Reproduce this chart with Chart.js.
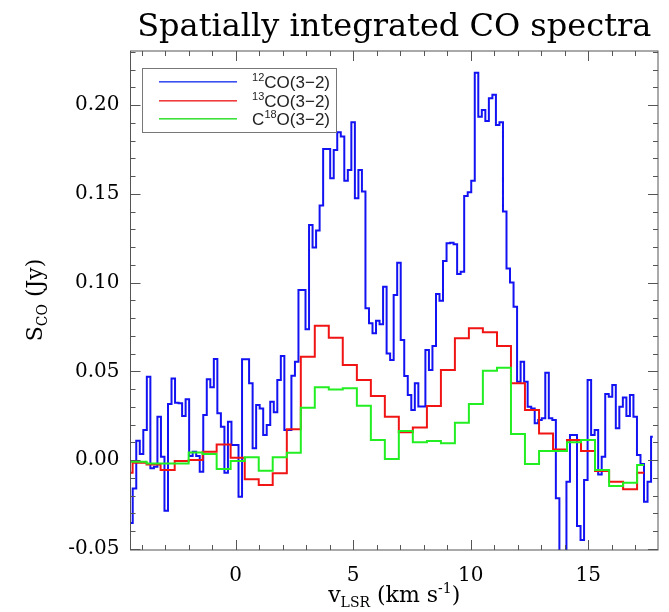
<!DOCTYPE html>
<html>
<head>
<meta charset="utf-8">
<title>Spatially integrated CO spectra</title>
<script src="https://cdn.jsdelivr.net/npm/chart.js"></script>
<style>
  html, body { margin: 0; padding: 0; background: #fff; }
  canvas { display: block; }
</style>
</head>
<body>
<canvas id="spectra" width="669" height="612"></canvas>
<script>
// 12CO(3-2): fine channels, velocity (km/s) and flux density (Jy)
const vel12co = [
  -4.45, -4.30, -4.15, -4.00, -3.85, -3.70, -3.55, -3.40, -3.25, -3.10,
  -2.95, -2.80, -2.65, -2.50, -2.35, -2.20, -2.05, -1.90, -1.75, -1.60,
  -1.45, -1.30, -1.15, -1.00, -0.85, -0.70, -0.55, -0.40, -0.25, -0.10,
  0.05, 0.20, 0.35, 0.50, 0.65, 0.80, 0.95, 1.10, 1.25, 1.40,
  1.55, 1.70, 1.85, 2.00, 2.15, 2.30, 2.45, 2.60, 2.75, 2.90,
  3.05, 3.20, 3.35, 3.50, 3.65, 3.80, 3.95, 4.10, 4.25, 4.40,
  4.55, 4.70, 4.85, 5.00, 5.15, 5.30, 5.45, 5.60, 5.75, 5.90,
  6.05, 6.20, 6.35, 6.50, 6.65, 6.80, 6.95, 7.10, 7.25, 7.40,
  7.55, 7.70, 7.85, 8.00, 8.15, 8.30, 8.45, 8.60, 8.75, 8.90,
  9.05, 9.20, 9.35, 9.50, 9.65, 9.80, 9.95, 10.10, 10.25, 10.40,
  10.55, 10.70, 10.85, 11.00, 11.15, 11.30, 11.45, 11.60, 11.75, 11.90,
  12.05, 12.20, 12.35, 12.50, 12.65, 12.80, 12.95, 13.10, 13.25, 13.40,
  13.55, 13.70, 13.85, 14.00, 14.15, 14.30, 14.45, 14.60, 14.75, 14.90,
  15.05, 15.20, 15.35, 15.50, 15.65, 15.80, 15.95, 16.10, 16.25, 16.40,
  16.55, 16.70, 16.85, 17.00, 17.15, 17.30, 17.45, 17.60, 17.75
];
const flux12co = [
  -0.0355, -0.0160, 0.0109, 0.0034, 0.0169, 0.0470, -0.0047, -0.0038, 0.0244, 0.0019,
  -0.0286, 0.0316, 0.0460, 0.0323, 0.0320, 0.0248, 0.0342, 0.0023, 0.0047, 0.0023,
  -0.0066, 0.0254, 0.0455, 0.0410, 0.0569, 0.0263, 0.0188, -0.0071, 0.0216, 0.0085,
  0.0085, -0.0207, 0.0568, 0.0568, 0.0432, 0.0066, 0.0310, 0.0290, 0.0141, 0.0197,
  0.0329, 0.0269, 0.0451, 0.0586, 0.0169, 0.0169, 0.0475, 0.0554, 0.0958, 0.0958,
  0.0737, 0.1325, 0.1197, 0.1293, 0.1434, 0.1753, 0.1753, 0.1588, 0.1747, 0.1847,
  0.1823, 0.1574, 0.1635, 0.1904, 0.1475, 0.1635, 0.1513, 0.0855, 0.0771, 0.0714,
  0.0785, 0.0765, 0.0977, 0.0601, 0.0564, 0.0930, 0.1112, 0.0676, 0.0474, 0.0366,
  0.0282, 0.0432, 0.0301, 0.0301, 0.0620, 0.0507, 0.0643, 0.0935, 0.0898, 0.1122,
  0.1221, 0.1225, 0.1216, 0.1048, 0.1061, 0.1488, 0.1509, 0.1574, 0.2183, 0.1935,
  0.1973, 0.1911, 0.2039, 0.2058, 0.1888, 0.1904, 0.1400, 0.1080, 0.1000, 0.0864,
  0.0441, 0.0554, 0.0441, 0.0300, 0.0291, 0.0207, 0.0225, 0.0235, 0.0492, 0.0235,
  0.0225, -0.0216, -0.0560, -0.0560, -0.0122, 0.0141, 0.0141, -0.0372, -0.0450, -0.0113,
  0.0451, 0.0141, 0.0169, -0.0081, 0.0019, 0.0372, 0.0357, 0.0423, 0.0179, 0.0300,
  0.0353, 0.0248, 0.0366, 0.0244, 0.0028, -0.0023, -0.0235, -0.0122, 0.0131
];

// 13CO(3-2) and C18O(3-2) share the coarser channels
const velIso = [
  -4.68, -4.08, -3.49, -2.89, -2.29, -1.70, -1.10, -0.51, 0.09, 0.69,
  1.28, 1.88, 2.48, 3.07, 3.67, 4.26, 4.86, 5.46, 6.05, 6.65,
  7.24, 7.84, 8.44, 9.03, 9.63, 10.22, 10.82, 11.42, 12.01, 12.61,
  13.21, 13.80, 14.40, 14.99, 15.59, 16.19, 16.78, 17.38
];
const flux13co = [
  -0.0071, -0.0015, -0.0025, -0.0056, -0.0006, 0.0000, 0.0047, 0.0088, 0.0013, -0.0109,
  -0.0141, -0.0075, 0.0173, 0.0582, 0.0757, 0.0689, 0.0535, 0.0451, 0.0361, 0.0244,
  0.0156, 0.0184, 0.0304, 0.0507, 0.0686, 0.0742, 0.0720, 0.0643, 0.0432, 0.0282,
  0.0150, 0.0060, 0.0113, 0.0051, -0.0062, -0.0122, -0.0165, -0.0071
];
const fluxC18o = [
  -0.0010, -0.0010, -0.0020, -0.0020, -0.0020, 0.0043, 0.0034, -0.0051, -0.0006, 0.0015,
  -0.0060, 0.0015, 0.0041, 0.0295, 0.0410, 0.0398, 0.0404, 0.0306, 0.0113, 0.0006,
  0.0163, 0.0100, 0.0107, 0.0094, 0.0210, 0.0316, 0.0503, 0.0520, 0.0147, -0.0023,
  0.0051, 0.0051, 0.0100, 0.0113, -0.0056, -0.0147, -0.0128, -0.0028
];

const xTicks = [0, 5, 10, 15];
const yTicks = [-0.05, 0.00, 0.05, 0.10, 0.15, 0.20];

const SERIF = '"DejaVu Serif", "Liberation Serif", serif';
const SANS = '"Liberation Sans", "DejaVu Sans", sans-serif';

function toPoints(xs, ys) {
  return xs.map((x, i) => ({ x: x, y: ys[i] }));
}

// draw a run of text pieces (sub/superscripts) starting at x, baseline y
function drawRuns(ctx, runs, x, y, align) {
  let w = 0;
  runs.forEach(r => { ctx.font = r.font; w += ctx.measureText(r.text).width; });
  let cx = x;
  if (align === 'center') cx = x - w / 2;
  if (align === 'right') cx = x - w;
  runs.forEach(r => {
    ctx.font = r.font;
    ctx.fillText(r.text, cx, y + (r.dy || 0));
    cx += ctx.measureText(r.text).width;
  });
}

const framePlugin = {
  id: 'frame',
  afterDraw(chart) {
    const ctx = chart.ctx;
    const a = chart.chartArea;
    const xs = chart.scales.x, ys = chart.scales.y;
    ctx.save();

    // box and inward ticks on all four sides
    ctx.strokeStyle = '#555';
    ctx.lineWidth = 1;
    ctx.strokeRect(a.left, a.top, a.right - a.left, a.bottom - a.top);
    ctx.beginPath();
    for (let v = -4; v <= 17; v++) {
      const px = Math.round(xs.getPixelForValue(v)) + 0.5;
      const len = (v % 5 === 0) ? 10 : 5;
      ctx.moveTo(px, a.bottom); ctx.lineTo(px, a.bottom - len);
      ctx.moveTo(px, a.top); ctx.lineTo(px, a.top + len);
    }
    for (let k = -5; k <= 23; k++) {
      const py = Math.round(ys.getPixelForValue(k / 100)) + 0.5;
      const len = (k % 5 === 0) ? 10 : 5;
      ctx.moveTo(a.left, py); ctx.lineTo(a.left + len, py);
      ctx.moveTo(a.right, py); ctx.lineTo(a.right - len, py);
    }
    ctx.stroke();

    ctx.fillStyle = '#000';
    ctx.textAlign = 'left';
    ctx.textBaseline = 'alphabetic';

    // title
    drawRuns(ctx, [{ text: 'Spatially integrated CO spectra', font: '32px ' + SERIF }],
      (a.left + a.right) / 2, 36, 'center');

    // x axis title
    drawRuns(ctx, [
      { text: 'v', font: '22px ' + SERIF },
      { text: 'LSR', font: '14px ' + SERIF, dy: 5 },
      { text: ' (km s', font: '22px ' + SERIF },
      { text: '-1', font: '14px ' + SERIF, dy: -9 },
      { text: ')', font: '22px ' + SERIF }
    ], (a.left + a.right) / 2, 602, 'center');

    // y axis title
    ctx.save();
    ctx.translate(42, 300);
    ctx.rotate(-Math.PI / 2);
    drawRuns(ctx, [
      { text: 'S', font: '22px ' + SERIF },
      { text: 'CO', font: '14px ' + SERIF, dy: 5 },
      { text: ' (Jy)', font: '22px ' + SERIF }
    ], 0, 0, 'center');
    ctx.restore();

    // legend box, sample lines and labels
    ctx.strokeStyle = '#777';
    ctx.lineWidth = 1;
    ctx.strokeRect(142.5, 68.5, 194, 64);
    const rows = [
      { color: 'rgb(60, 80, 240)', runs: [{ text: '12', font: '11px ' + SANS, dy: -7 }, { text: 'CO(3\u22122)', font: '17px ' + SANS }] },
      { color: 'rgb(240, 60, 60)', runs: [{ text: '13', font: '11px ' + SANS, dy: -7 }, { text: 'CO(3\u22122)', font: '17px ' + SANS }] },
      { color: 'rgb(60, 225, 60)', runs: [{ text: 'C', font: '17px ' + SANS }, { text: '18', font: '11px ' + SANS, dy: -7 }, { text: 'O(3\u22122)', font: '17px ' + SANS }] }
    ];
    rows.forEach((r, i) => {
      const ly = Math.round(82 + i * 18.7);
      ctx.fillStyle = r.color;
      ctx.fillRect(159, ly - 1, 78, 1.6);
      ctx.fillStyle = '#222';
      drawRuns(ctx, r.runs, 330, ly + 6, 'right');
    });
    ctx.restore();
  }
};

new Chart(document.getElementById('spectra'), {
  type: 'line',
  data: {
    datasets: [
      {
        label: '12CO(3-2)', data: toPoints(vel12co, flux12co),
        borderColor: '#1212f2', borderWidth: 2, stepped: 'middle',
        pointRadius: 0, order: 3
      },
      {
        label: '13CO(3-2)', data: toPoints(velIso, flux13co),
        borderColor: '#f01414', borderWidth: 2, stepped: 'middle',
        pointRadius: 0, order: 2
      },
      {
        label: 'C18O(3-2)', data: toPoints(velIso, fluxC18o),
        borderColor: '#22ee22', borderWidth: 2, stepped: 'middle',
        pointRadius: 0, order: 1
      }
    ]
  },
  options: {
    responsive: false,
    animation: false,
    devicePixelRatio: 1,
    layout: { padding: { top: 51, right: 11, bottom: 0, left: 0 } },
    plugins: { legend: { display: false }, tooltip: { enabled: false } },
    scales: {
      x: {
        type: 'linear', min: -4.47, max: 17.97,
        afterBuildTicks: s => { s.ticks = xTicks.map(v => ({ value: v })); },
        afterFit: s => { s.height = 62; },
        grid: { display: false, drawTicks: false },
        border: { display: false },
        ticks: {
          color: '#000', padding: 14, maxRotation: 0,
          font: { family: SERIF, size: 20 },
          callback: v => String(v)
        }
      },
      y: {
        type: 'linear', min: -0.0507, max: 0.2305,
        afterBuildTicks: s => { s.ticks = yTicks.map(v => ({ value: v })); },
        afterFit: s => { s.width = 130.5; },
        grid: { display: false, drawTicks: false },
        border: { display: false },
        ticks: {
          color: '#000', padding: 11,
          font: { family: SERIF, size: 20 },
          callback: v => v.toFixed(2)
        }
      }
    }
  },
  plugins: [framePlugin]
});
</script>
</body>
</html>
